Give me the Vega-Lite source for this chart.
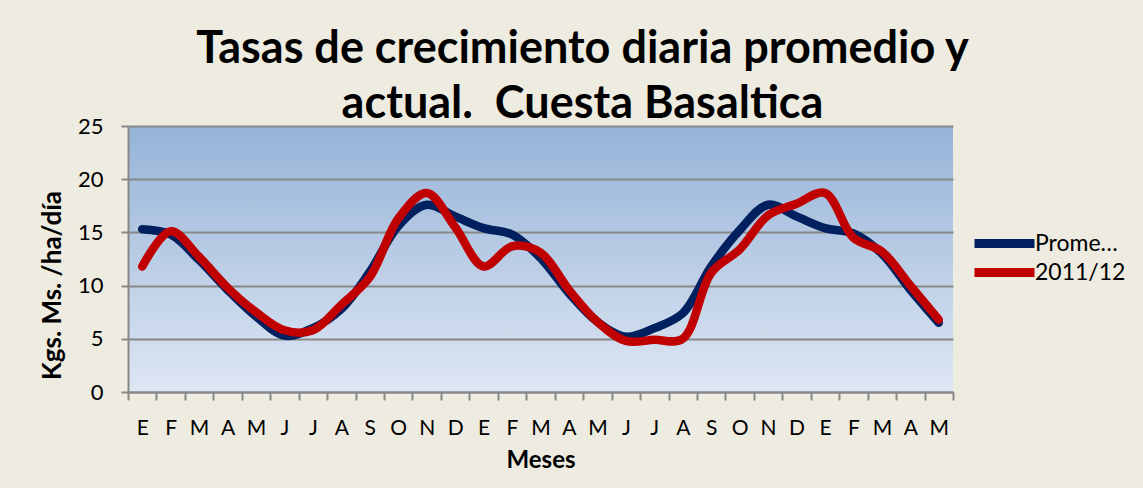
{
  "$schema": "https://vega.github.io/schema/vega-lite/v6.json",
  "width": 825,
  "height": 266,
  "autosize": {"type": "none"},
  "padding": {"left": 128, "top": 126, "right": 190, "bottom": 96},
  "background": "#EEEBE0",
  "title": {
    "text": ["Tasas de crecimiento diaria promedio y", "actual.\u00a0 Cuesta Basaltica"],
    "font": "Lato",
    "fontSize": 45,
    "fontWeight": "bold",
    "color": "#000000",
    "anchor": "middle",
    "dx": 42,
    "lineHeight": 55,
    "offset": -12
  },
  "config": {
    "view": {
      "stroke": null,
      "fill": {
        "gradient": "linear",
        "x1": 0, "y1": 0, "x2": 0, "y2": 1,
        "stops": [
          {"offset": 0, "color": "#95B3D7"},
          {"offset": 1, "color": "#DEE6F3"}
        ]
      }
    },
    "axis": {
      "labelFont": "Lato",
      "titleFont": "Lato",
      "labelColor": "#000000",
      "titleColor": "#000000",
      "domainColor": "#878787",
      "domainWidth": 2,
      "tickColor": "#878787",
      "tickWidth": 2,
      "gridColor": "#878787",
      "gridWidth": 2
    }
  },
  "data": {
    "values": [
      {"k": "01E", "serie": "Promedio", "v": 15.3},
      {"k": "02F", "serie": "Promedio", "v": 14.8},
      {"k": "03M", "serie": "Promedio", "v": 12.4},
      {"k": "04A", "serie": "Promedio", "v": 9.6},
      {"k": "05M", "serie": "Promedio", "v": 7.1},
      {"k": "06J", "serie": "Promedio", "v": 5.3},
      {"k": "07J", "serie": "Promedio", "v": 6.0},
      {"k": "08A", "serie": "Promedio", "v": 7.8},
      {"k": "09S", "serie": "Promedio", "v": 11.3},
      {"k": "10O", "serie": "Promedio", "v": 15.6},
      {"k": "11N", "serie": "Promedio", "v": 17.6},
      {"k": "12D", "serie": "Promedio", "v": 16.5},
      {"k": "13E", "serie": "Promedio", "v": 15.4},
      {"k": "14F", "serie": "Promedio", "v": 14.8},
      {"k": "15M", "serie": "Promedio", "v": 12.6},
      {"k": "16A", "serie": "Promedio", "v": 9.3},
      {"k": "17M", "serie": "Promedio", "v": 6.6},
      {"k": "18J", "serie": "Promedio", "v": 5.2},
      {"k": "19J", "serie": "Promedio", "v": 6.0},
      {"k": "20A", "serie": "Promedio", "v": 7.4},
      {"k": "21S", "serie": "Promedio", "v": 11.8},
      {"k": "22O", "serie": "Promedio", "v": 15.2},
      {"k": "23N", "serie": "Promedio", "v": 17.6},
      {"k": "24D", "serie": "Promedio", "v": 16.5},
      {"k": "25E", "serie": "Promedio", "v": 15.4},
      {"k": "26F", "serie": "Promedio", "v": 14.9},
      {"k": "27M", "serie": "Promedio", "v": 13.0},
      {"k": "28A", "serie": "Promedio", "v": 9.6},
      {"k": "29M", "serie": "Promedio", "v": 6.5},
      {"k": "01E", "serie": "2011/12", "v": 11.8},
      {"k": "02F", "serie": "2011/12", "v": 15.1},
      {"k": "03M", "serie": "2011/12", "v": 12.7},
      {"k": "04A", "serie": "2011/12", "v": 9.8},
      {"k": "05M", "serie": "2011/12", "v": 7.5},
      {"k": "06J", "serie": "2011/12", "v": 5.8},
      {"k": "07J", "serie": "2011/12", "v": 5.8},
      {"k": "08A", "serie": "2011/12", "v": 8.2},
      {"k": "09S", "serie": "2011/12", "v": 10.8},
      {"k": "10O", "serie": "2011/12", "v": 16.3},
      {"k": "11N", "serie": "2011/12", "v": 18.7},
      {"k": "12D", "serie": "2011/12", "v": 15.5},
      {"k": "13E", "serie": "2011/12", "v": 11.8},
      {"k": "14F", "serie": "2011/12", "v": 13.7},
      {"k": "15M", "serie": "2011/12", "v": 13.1},
      {"k": "16A", "serie": "2011/12", "v": 9.6},
      {"k": "17M", "serie": "2011/12", "v": 6.6},
      {"k": "18J", "serie": "2011/12", "v": 4.8},
      {"k": "19J", "serie": "2011/12", "v": 4.9},
      {"k": "20A", "serie": "2011/12", "v": 5.0},
      {"k": "21S", "serie": "2011/12", "v": 11.2},
      {"k": "22O", "serie": "2011/12", "v": 13.4},
      {"k": "23N", "serie": "2011/12", "v": 16.6},
      {"k": "24D", "serie": "2011/12", "v": 17.7},
      {"k": "25E", "serie": "2011/12", "v": 18.7},
      {"k": "26F", "serie": "2011/12", "v": 14.5},
      {"k": "27M", "serie": "2011/12", "v": 13.2},
      {"k": "28A", "serie": "2011/12", "v": 10.0},
      {"k": "29M", "serie": "2011/12", "v": 6.8}
    ]
  },
  "mark": {
    "type": "line",
    "interpolate": "catmull-rom",
    "strokeWidth": 8.5,
    "strokeCap": "round",
    "strokeJoin": "round"
  },
  "encoding": {
    "x": {
      "field": "k",
      "type": "ordinal",
      "bandPosition": 0.5,
      "scale": {"type": "band", "paddingInner": 0, "paddingOuter": 0},
      "axis": {
        "title": "Meses",
        "titleFontSize": 24,
        "titleFontWeight": "bold",
        "titlePadding": 10,
        "labelExpr": "isString(datum.value) ? substring(datum.value, 2) : ''",
        "labelAngle": 0,
        "labelFontSize": 21,
        "labelPadding": 17,
        "tickBand": "extent",
        "tickSize": 8,
        "grid": false
      }
    },
    "y": {
      "field": "v",
      "type": "quantitative",
      "scale": {"domain": [0, 25], "nice": false},
      "axis": {
        "title": "Kgs. Ms. /ha/día",
        "titleFontSize": 26,
        "titleFontWeight": "bold",
        "titleY": 159,
        "titlePadding": 12,
        "values": [0, 5, 10, 15, 20, 25],
        "labelFontSize": 22,
        "labelPadding": 18,
        "tickSize": 7,
        "grid": true
      }
    },
    "color": {
      "field": "serie",
      "type": "nominal",
      "sort": ["Promedio", "2011/12"],
      "scale": {"domain": ["Promedio", "2011/12"], "range": ["#002060", "#C00000"]},
      "legend": {
        "title": null,
        "orient": "none",
        "legendX": 842,
        "legendY": 103,
        "symbolType": "stroke",
        "symbolSize": 3600,
        "symbolStrokeWidth": 9,
        "clipHeight": 29,
        "labelFont": "Lato",
        "labelFontSize": 23,
        "labelColor": "#000000",
        "labelExpr": "datum.label == 'Promedio' ? 'Prome…' : datum.label",
        "labelLimit": 200,
        "labelOffset": -4,
        "rowPadding": 0
      }
    }
  }
}
